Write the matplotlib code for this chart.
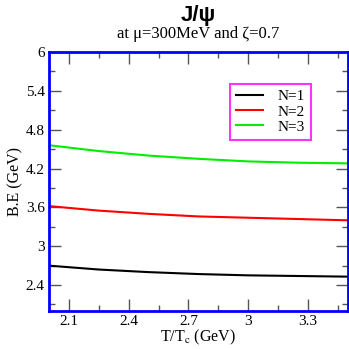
import numpy as np
import matplotlib.pyplot as plt
from matplotlib.ticker import MultipleLocator

# Binding energy vs T/Tc for J/psi
t_ratio = [2.0, 2.25, 2.5, 2.75, 3.0, 3.25, 3.5]
be_n1 = [2.70, 2.64, 2.60, 2.57, 2.55, 2.54, 2.53]
be_n2 = [3.62, 3.55, 3.50, 3.46, 3.44, 3.42, 3.40]
be_n3 = [4.56, 4.47, 4.40, 4.35, 4.31, 4.29, 4.28]
labels = ["N=1", "N=2", "N=3"]
colors = ["black", "red", "#00ee00"]

plt.rcParams['font.family'] = ['Liberation Serif', 'DejaVu Serif']
plt.rcParams['mathtext.fontset'] = 'stix'

fig = plt.figure(figsize=(3.49, 3.49), dpi=100)
ax = fig.add_axes([0.140, 0.109, 0.857, 0.742])

for ys, lab, col in zip([be_n1, be_n2, be_n3], labels, colors):
    ax.plot(t_ratio, ys, color=col, lw=1.5, label=lab)

ax.set_xlim(2.0, 3.5)
ax.set_ylim(2.0, 6.0)
ax.xaxis.set_minor_locator(MultipleLocator(0.15))
ax.yaxis.set_minor_locator(MultipleLocator(0.3))
ax.set_xticks([2.1, 2.4, 2.7, 3.0, 3.3])
ax.set_xticklabels(["2.1", "2.4", "2.7", "3", "3.3"])
ax.set_yticks([2.4, 3.0, 3.6, 4.2, 4.8, 5.4, 6.0])
ax.set_yticklabels(["2.4", "3", "3.6", "4.2", "4.8", "5.4", "6"])
ax.tick_params(which='both', direction='in', top=True, right=True,
               labelsize=11, color='#555555', pad=3)
ax.tick_params(which='major', length=8.5, width=1)
ax.tick_params(which='minor', length=4.5, width=1)

for sp in ax.spines.values():
    sp.set_color('blue')
    sp.set_linewidth(2)

ax.set_xlabel("T/T$_\\mathrm{c}$ (GeV)", fontsize=11.5, labelpad=0)
ax.set_ylabel("B.E (GeV)", fontsize=11.5, labelpad=2)

leg = ax.legend(loc='upper right', bbox_to_anchor=(0.875, 0.878), fontsize=11,
                frameon=True, fancybox=False, handlelength=1.8,
                borderpad=0.4, labelspacing=0.1, borderaxespad=0,
                handletextpad=0.9)
leg.get_frame().set_edgecolor('magenta')
leg.get_frame().set_linewidth(1.5)

fig.text(0.568, 0.957, "J/ψ", ha='center', va='center', fontsize=16,
         family=['Liberation Sans', 'DejaVu Sans'], fontweight='bold')
fig.text(0.568, 0.903, "at μ=300MeV and ζ=0.7", ha='center', va='center',
         fontsize=12)

fig.savefig("out.png", dpi=100)
